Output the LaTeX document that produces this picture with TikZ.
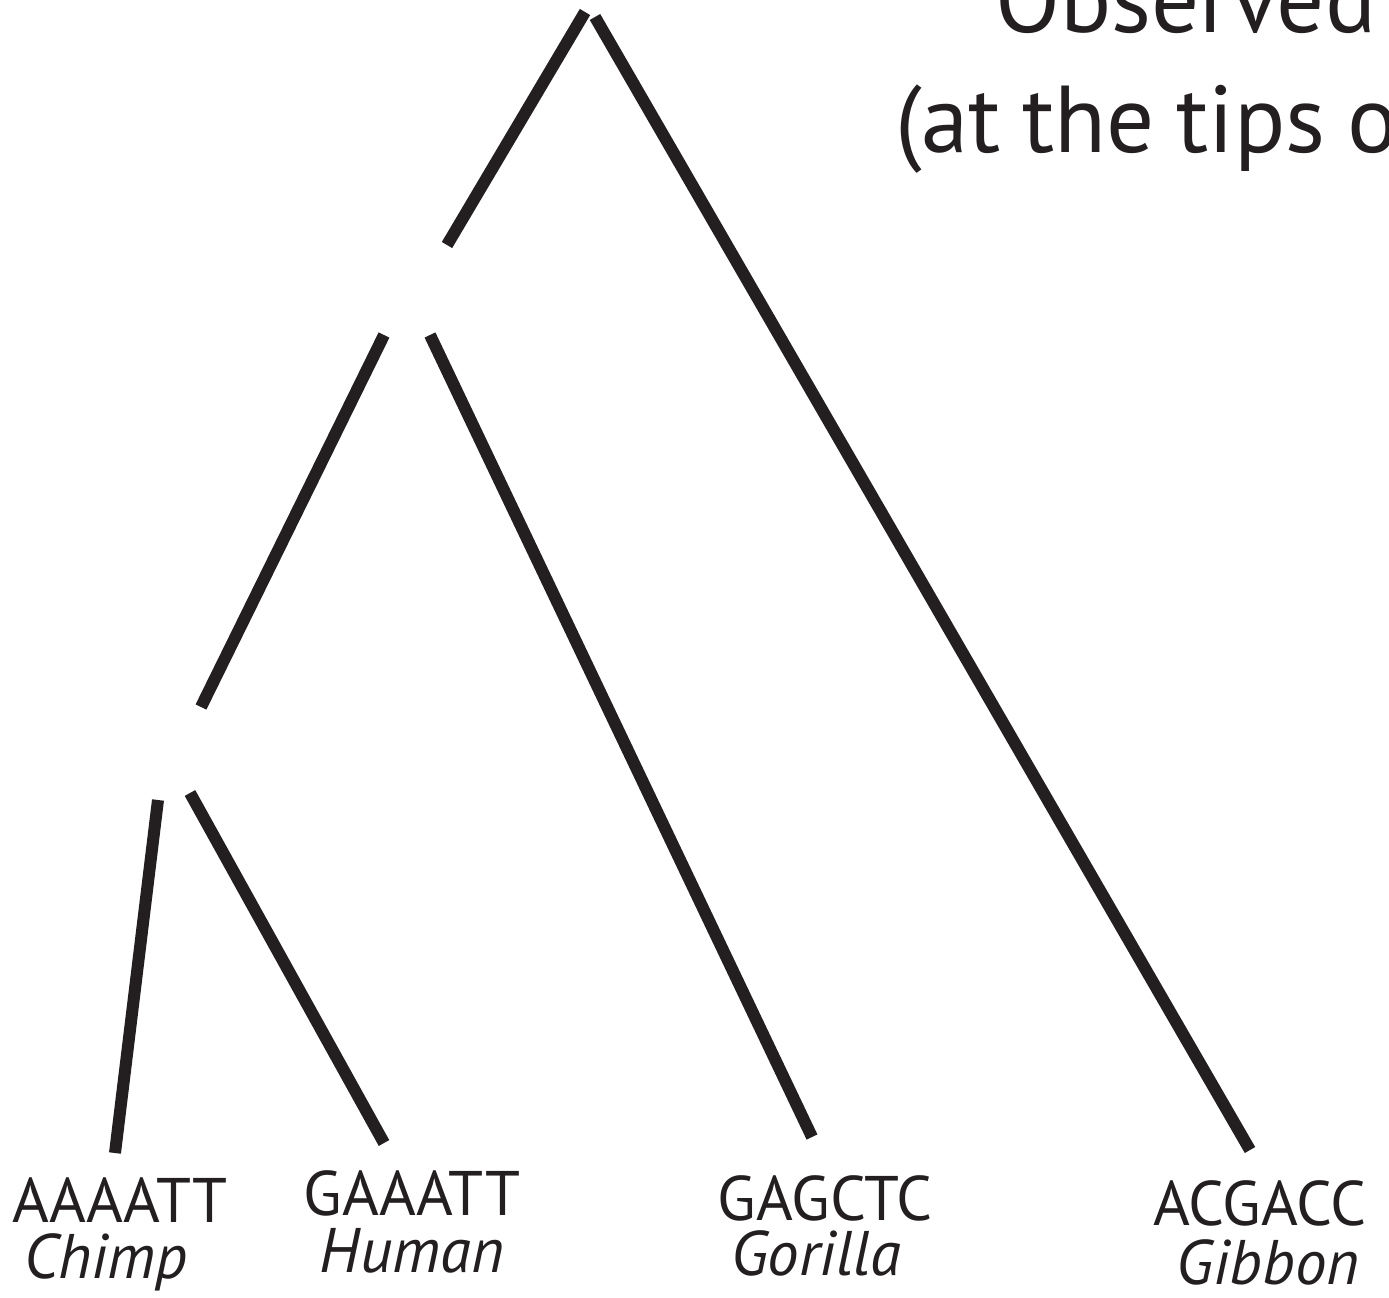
\documentclass[tikz,border=0pt]{standalone}
\usepackage{fontspec}
\setmainfont{PT Sans}
\newfontfamily\titlefont[WordSpace=0.85]{PT Sans}
\definecolor{ink}{HTML}{231F20}
\begin{document}
\begin{tikzpicture}[x=1pt,y=-1pt,
  branch/.style={line width=12pt, draw=ink, line cap=butt},
  seq/.style={inner sep=0pt, anchor=base, text=ink, font=\fontsize{63}{63}\selectfont},
  taxon/.style={inner sep=0pt, anchor=base, text=ink, font=\fontsize{63}{63}\selectfont\itshape},
  title/.style={inner sep=0pt, anchor=base west, text=ink, font=\titlefont\fontsize{95}{95}\selectfont}]
\useasboundingbox[fill=white] (0,0) rectangle (1389,1298);
\clip (0,0) rectangle (1389,1298);
% branch end points
\coordinate (r1) at (585,12);   \coordinate (r1b) at (447,245);
\coordinate (r2) at (595,17);   \coordinate (gib) at (1250,1150);
\coordinate (a1) at (384,335);  \coordinate (a1b) at (201,707);
\coordinate (a2) at (430,335);  \coordinate (gor) at (812,1137);
\coordinate (b1) at (158,800);  \coordinate (chi) at (115,1153);
\coordinate (b2) at (190,793);  \coordinate (hum) at (384,1143);
\draw[branch] (r1) -- (r1b);
\draw[branch] (r2) -- (gib);
\draw[branch] (a1) -- (a1b);
\draw[branch] (a2) -- (gor);
\draw[branch] (b1) -- (chi);
\draw[branch] (b2) -- (hum);
% labels
\node[seq] (s1) at (120,1222) {AAAATT};
\node[taxon] (t1) at (106,1278) {Chimp};
\node[seq] (s2) at (412,1215) {GAAATT};
\node[taxon] (t2) at (412,1272) {Human};
\node[seq] (s3) at (825,1220) {GAGCTC};
\node[taxon] (t3) at (816,1275) {Gorilla};
\node[seq] (s4) at (1260,1225) {ACGACC};
\node[taxon] (t4) at (1268,1284) {Gibbon};
\node[title] (h1) at (995,33) {Observed};
\node[title] (h2) at (895,152) {(at the tips o};
\end{tikzpicture}
\end{document}
